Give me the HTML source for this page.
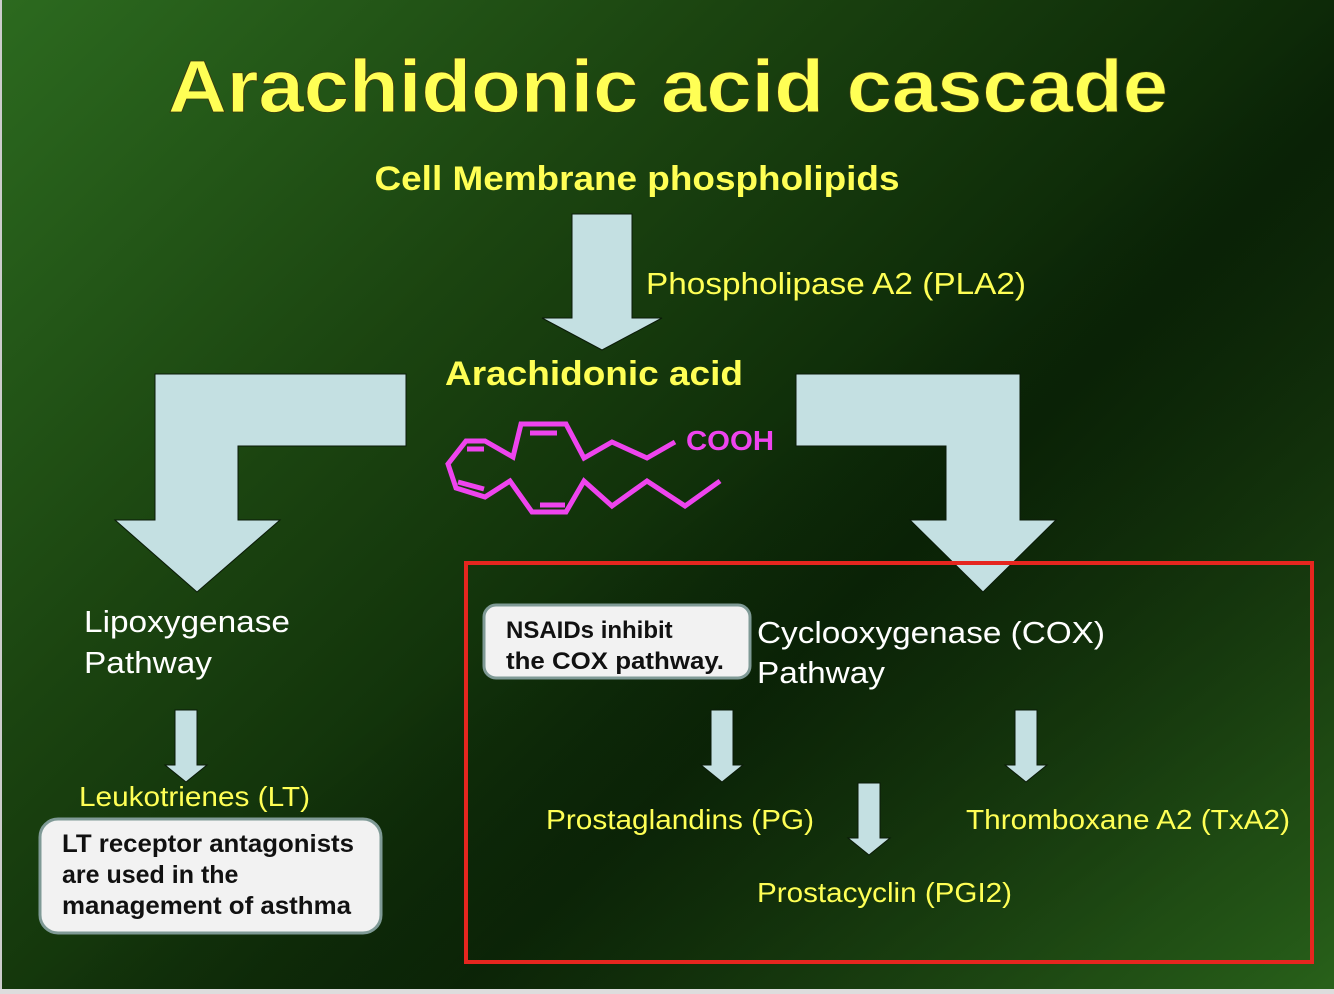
<!DOCTYPE html>
<html><head><meta charset="utf-8"><style>
html,body{margin:0;padding:0;background:#0b2206}
svg{display:block}
</style></head><body>
<svg width="1334" height="994" viewBox="0 0 1334 994" xmlns="http://www.w3.org/2000/svg" font-family="Liberation Sans, Arial, sans-serif">
<defs>
<linearGradient id="bg" x1="0" y1="0" x2="1" y2="0.75">
<stop offset="0" stop-color="#2c6a1f"/>
<stop offset="0.35" stop-color="#1b4410"/>
<stop offset="0.7" stop-color="#0a2406"/>
<stop offset="1" stop-color="#183d0e"/>
</linearGradient>
<linearGradient id="bg2" x1="0" y1="0" x2="1" y2="1">
<stop offset="0" stop-color="#000" stop-opacity="0"/>
<stop offset="0.5" stop-color="#000" stop-opacity="0"/>
<stop offset="1" stop-color="#2e6e1e" stop-opacity="0.75"/>
</linearGradient>
</defs>
<rect width="1334" height="994" fill="url(#bg)"/>
<rect width="1334" height="994" fill="url(#bg2)"/>
<rect x="0" y="0" width="2" height="994" fill="#ccc"/>
<rect x="0" y="989" width="1334" height="5" fill="#ddd"/>

<text x="668" y="112" text-anchor="middle" font-size="74" font-weight="bold" fill="#ffff55" stroke="#3a3a10" stroke-width="0.8" textLength="1000" lengthAdjust="spacingAndGlyphs">Arachidonic acid cascade</text>
<text x="637" y="190" text-anchor="middle" font-size="34" font-weight="bold" fill="#ffff55" textLength="525" lengthAdjust="spacingAndGlyphs">Cell Membrane phospholipids</text>

<g fill="#c4e0e2" stroke="#0a1a08" stroke-width="1">
<polygon points="572,214 632,214 632,318 662,318 602,350 542,318 572,318"/>
<polygon points="406,374 155,374 155,520 115,520 197,592 280,520 238,520 238,446 406,446"/>
<polygon points="796,374 1020,374 1020,520 1056,520 983,592 910,520 946,520 946,446 796,446"/>
<polygon points="175,710 197,710 197,765 207,765 186,782 165,765 175,765"/>
<polygon points="711,710 733,710 733,765 743,765 722,782 701,765 711,765"/>
<polygon points="1015,710 1037,710 1037,765 1047,765 1026,782 1005,765 1015,765"/>
<polygon points="858,783 880,783 880,838 890,838 869,855 848,838 858,838"/>
</g>

<text x="646" y="294" font-size="31" fill="#ffff55" textLength="380" lengthAdjust="spacingAndGlyphs">Phospholipase A2 (PLA2)</text>
<text x="445" y="385" font-size="34" font-weight="bold" fill="#ffff55" textLength="298" lengthAdjust="spacingAndGlyphs">Arachidonic acid</text>

<g fill="none" stroke="#ee44ee" stroke-width="5" stroke-linejoin="miter">
<polyline points="675,442 647,458 612,442 584,458 566,424 521,424 513,457 485,441 466,441 448,464 456,488 485,497 510,481 532,512 566,512 584,481 612,506 647,481 685,506 720,481"/>
<line x1="530" y1="433" x2="557" y2="433"/>
<line x1="467" y1="449" x2="484" y2="449"/>
<line x1="458" y1="482" x2="484" y2="489"/>
<line x1="540" y1="505" x2="565" y2="505"/>
</g>
<text x="686" y="450" font-size="28" font-weight="bold" fill="#ee44ee" textLength="88" lengthAdjust="spacingAndGlyphs">COOH</text>

<text x="84" y="632" font-size="31" fill="#ffffff" textLength="206" lengthAdjust="spacingAndGlyphs">Lipoxygenase</text>
<text x="84" y="673" font-size="31" fill="#ffffff" textLength="128" lengthAdjust="spacingAndGlyphs">Pathway</text>
<text x="79" y="806" font-size="28" fill="#ffff55" textLength="231" lengthAdjust="spacingAndGlyphs">Leukotrienes (LT)</text>

<rect x="40" y="819" width="341" height="114" rx="18" fill="#f2f2f2" stroke="#7f9a96" stroke-width="3"/>
<g font-size="25" font-weight="bold" fill="#111">
<text x="62" y="852" textLength="292" lengthAdjust="spacingAndGlyphs">LT receptor antagonists</text>
<text x="62" y="883">are used in the</text>
<text x="62" y="914" textLength="289" lengthAdjust="spacingAndGlyphs">management of asthma</text>
</g>

<rect x="466" y="563" width="846" height="399" fill="none" stroke="#e5261f" stroke-width="4"/>

<rect x="484" y="605" width="266" height="73" rx="12" fill="#f2f2f2" stroke="#7f9a96" stroke-width="3"/>
<g font-size="24" font-weight="bold" fill="#111">
<text x="506" y="638">NSAIDs inhibit</text>
<text x="506" y="669" textLength="218" lengthAdjust="spacingAndGlyphs">the COX pathway.</text>
</g>
<text x="757" y="643" font-size="31" fill="#ffffff" textLength="348" lengthAdjust="spacingAndGlyphs">Cyclooxygenase (COX)</text>
<text x="757" y="683" font-size="31" fill="#ffffff" textLength="128" lengthAdjust="spacingAndGlyphs">Pathway</text>

<text x="546" y="829" font-size="28" fill="#ffff55" textLength="268" lengthAdjust="spacingAndGlyphs">Prostaglandins (PG)</text>
<text x="966" y="829" font-size="28" fill="#ffff55" textLength="324" lengthAdjust="spacingAndGlyphs">Thromboxane A2 (TxA2)</text>
<text x="757" y="902" font-size="28" fill="#ffff55" textLength="255" lengthAdjust="spacingAndGlyphs">Prostacyclin (PGI2)</text>
</svg>
</body></html>
